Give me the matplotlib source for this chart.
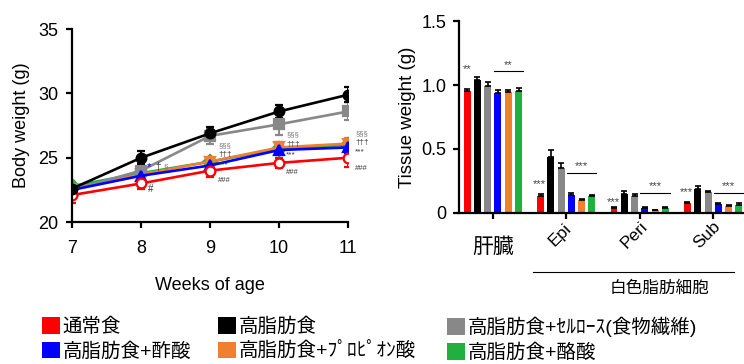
import matplotlib
matplotlib.use("Agg")
import matplotlib.pyplot as plt
from matplotlib.patches import Patch
import numpy as np

plt.rcParams['font.family'] = ['Liberation Sans', 'Noto Sans CJK JP']

# ---- data ----
weeks = [7, 8, 9, 10, 11]
bw_normal = [22.1, 23.0, 24.0, 24.6, 25.0]
bw_hfd = [22.6, 25.0, 26.9, 28.6, 29.9]
bw_cellulose = [22.5, 24.0, 26.7, 27.6, 28.6]
bw_acetate = [22.5, 23.6, 24.4, 25.6, 25.8]
bw_propionate = [22.6, 23.7, 24.7, 25.8, 26.1]
bw_butyrate = [22.8, 23.8, 24.7, 25.7, 26.0]
bw_err_normal = [0.6, 0.4, 0.5, 0.4, 0.7]
bw_err_hfd = [0.4, 0.5, 0.5, 0.5, 0.6]
bw_err_cellulose = [0.3, 0.5, 0.6, 0.8, 0.7]
bw_err_small = [0.3, 0.3, 0.3, 0.4, 0.4]

tissues = ['肝臓', 'Epi', 'Peri', 'Sub']
tw_normal = [0.95, 0.13, 0.04, 0.08]
tw_hfd = [1.04, 0.44, 0.15, 0.19]
tw_cellulose = [0.99, 0.35, 0.13, 0.16]
tw_acetate = [0.94, 0.14, 0.04, 0.07]
tw_propionate = [0.945, 0.10, 0.02, 0.055]
tw_butyrate = [0.95, 0.13, 0.035, 0.065]
tw_err = [[0.02, 0.015, 0.008, 0.008],
          [0.02, 0.055, 0.025, 0.02],
          [0.03, 0.04, 0.02, 0.015],
          [0.02, 0.015, 0.008, 0.01],
          [0.02, 0.01, 0.005, 0.01],
          [0.025, 0.012, 0.008, 0.01]]

labels = ['通常食', '高脂肪食', '高脂肪食+ｾﾙﾛｰｽ(食物繊維)',
          '高脂肪食+酢酸', '高脂肪食+ﾌﾟﾛﾋﾟｵﾝ酸', '高脂肪食+酪酸']
colors = ['#ff0000', '#000000', '#888888', '#0000ff', '#f08030', '#20b040']

# significance marks on body weight: (week x, [§§§, †††, ***, ###] y)
sig_pos = [(9.12, [25.9, 25.25, 24.45, 23.2]),
           (10.1, [26.75, 26.05, 25.2, 23.85]),
           (11.1, [26.9, 26.2, 25.45, 24.2])]

fig = plt.figure(figsize=(7.44, 3.64), dpi=100)

# ---- body weight ----
ax = fig.add_axes([0.097, 0.39, 0.371, 0.53])
series = [
    (bw_butyrate, bw_err_small, colors[5], 'D', colors[5]),
    (bw_propionate, bw_err_small, colors[4], 'v', colors[4]),
    (bw_cellulose, bw_err_cellulose, colors[2], 's', colors[2]),
    (bw_acetate, bw_err_small, colors[3], '^', colors[3]),
    (bw_normal, bw_err_normal, colors[0], 'o', 'white'),
    (bw_hfd, bw_err_hfd, colors[1], 'o', colors[1]),
]
for vals, err, c, m, fc in series:
    ax.errorbar(weeks, vals, yerr=err, color=c, marker=m, markerfacecolor=fc,
                markeredgecolor=c, markersize=7, markeredgewidth=1.6,
                linewidth=1.9, capsize=3, elinewidth=1.5, capthick=1.5)

ax.set_xlim(7, 11)
ax.set_ylim(20, 35)
ax.set_xticks(weeks)
ax.set_yticks([20, 25, 30, 35])
ax.spines['top'].set_visible(False)
ax.spines['right'].set_visible(False)
ax.spines['left'].set_linewidth(1.6)
ax.spines['bottom'].set_linewidth(1.6)
ax.tick_params(labelsize=13, width=1.6, length=4)
ax.tick_params(axis='x', pad=9)
ax.tick_params(axis='y', pad=6)
ax.set_ylabel('Body weight (g)', fontsize=13, labelpad=6)
ax.set_xlabel('Weeks of age', fontsize=13, labelpad=14)
for sp in ax.spines.values():
    sp.set_clip_on(False)

ax.text(8.08, 24.3, '*', color='#0000cc', fontsize=8, va='center')
ax.text(8.2, 24.3, '†', fontsize=7, color='#333333', va='center')
ax.text(8.33, 24.3, '§', fontsize=6, color='#777777', va='center')
ax.text(8.1, 22.6, '#', fontsize=7, color='#333333', va='center')
for x, ys in sig_pos:
    ax.text(x, ys[0], '§§§', fontsize=5.5, color='#777777', va='center', clip_on=False)
    ax.text(x, ys[1], '†††', fontsize=6, color='#333333', va='center', clip_on=False)
    ax.text(x, ys[2], '***', fontsize=6, color='#333333', va='center', clip_on=False)
    ax.text(x, ys[3], '###', fontsize=5.5, color='#333333', va='center', clip_on=False)

# ---- tissue weight ----
bx = fig.add_axes([0.617, 0.415, 0.383, 0.527])
xg = np.arange(len(tissues))
step = 0.14
width = 0.095
tw_all = [tw_normal, tw_hfd, tw_cellulose, tw_acetate, tw_propionate, tw_butyrate]
for i, (vals, c) in enumerate(zip(tw_all, colors)):
    bx.bar(xg + (i - 2.5) * step, vals, width=width, color=c,
           yerr=[np.zeros(4), tw_err[i]],
           error_kw=dict(ecolor='black', capsize=2, elinewidth=1.2, capthick=1.2))

bx.set_xlim(-0.46, 3.42)
bx.set_ylim(0, 1.5)
bx.set_yticks([0, 0.5, 1.0, 1.5])
bx.set_yticklabels(['0', '0.5', '1.0', '1.5'])
bx.set_xticks(xg)
bx.set_xticklabels([])
bx.spines['top'].set_visible(False)
bx.spines['right'].set_visible(False)
bx.spines['left'].set_linewidth(1.6)
bx.spines['bottom'].set_linewidth(1.6)
bx.tick_params(labelsize=13, width=1.6, length=4)
bx.tick_params(axis='y', pad=5)
bx.set_ylabel('Tissue weight (g)', fontsize=13.5, labelpad=4)

bx.text(xg[0], -0.19, tissues[0], ha='center', va='top', fontsize=15)
for i in range(1, 4):
    bx.text(xg[i] - 0.15, -0.13, tissues[i], ha='center', va='top', rotation=45,
            fontsize=12.5, rotation_mode='anchor')

# significance marks on tissue weight
bx.text(xg[0] - 2.5 * step, 1.1, '**', ha='center', fontsize=8, color='#444444')
bx.plot([xg[0] + 0.5 * step - 0.06, xg[0] + 2.5 * step + 0.06], [1.11, 1.11],
        color='black', linewidth=0.8)
bx.text(xg[0] + 1.5 * step, 1.13, '**', ha='center', fontsize=8, color='#444444')
for i, (ys, yl) in zip([1, 2, 3], [(0.2, 0.31), (0.06, 0.155), (0.14, 0.155)]):
    bx.text(xg[i] - 2.6 * step, ys, '***', ha='center', fontsize=8, color='#444444')
    bx.plot([xg[i] + 0.5 * step - 0.06, xg[i] + 2.5 * step + 0.06], [yl, yl],
            color='black', linewidth=0.8, clip_on=False)
    bx.text(xg[i] + 1.5 * step, yl + 0.03, '***', ha='center', fontsize=8, color='#444444')

# white adipose bracket
bx.plot([xg[1] - 0.45, xg[3] + 0.28], [-0.46, -0.46], color='black', linewidth=0.8,
        clip_on=False)
bx.text((xg[1] + xg[3]) / 2 + 0.27, -0.53, '白色脂肪細胞', ha='center', va='top', fontsize=12)

# ---- legend (one column per legend) ----
handles = [Patch(facecolor=c, edgecolor='none') for c in colors]
for col, xpx in zip(range(3), [42, 218, 447]):
    idx = [col, col + 3]
    fig.legend([handles[i] for i in idx], [labels[i] for i in idx],
               loc='upper left', bbox_to_anchor=(xpx / 744, 1 - 317 / 364),
               frameon=False, fontsize=14, handlelength=0.95, handleheight=0.95,
               handletextpad=0.1, labelspacing=0.28, borderaxespad=0, borderpad=0)

fig.savefig('out.png', dpi=100)
